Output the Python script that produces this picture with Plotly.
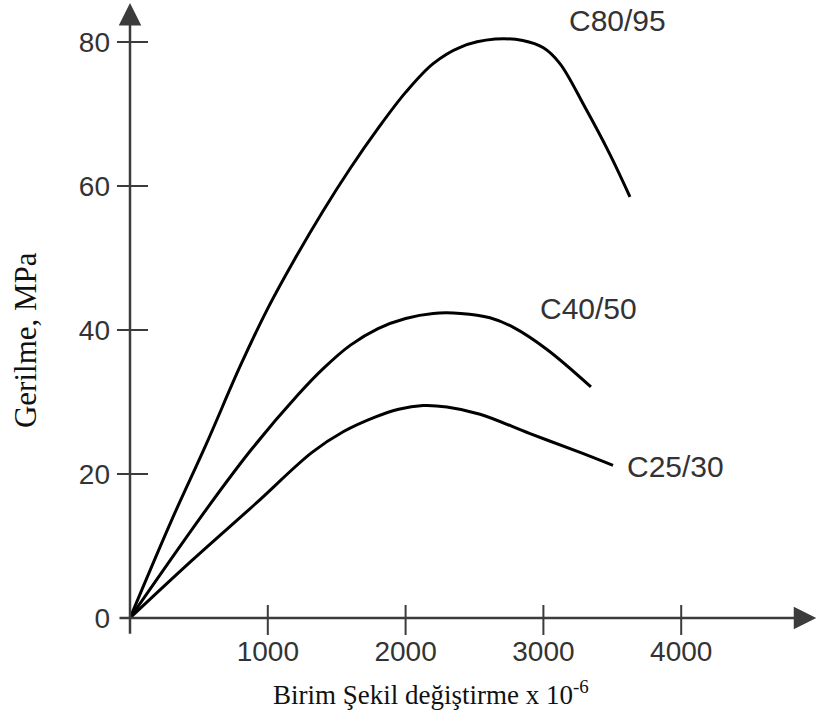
import plotly.graph_objects as go

# Strain (x 10^-6) and stress (MPa) readings for each concrete class
c80_strain = [0, 300, 550, 800, 1000, 1200, 1400, 1600, 1800, 2000, 2200, 2400, 2650, 2850, 3000, 3120, 3300, 3480, 3628]
c80_stress = [0, 13.5, 24.0, 35.0, 43.0, 50.0, 56.5, 62.5, 68.0, 73.0, 77.0, 79.3, 80.4, 80.2, 79.2, 77.0, 71.0, 64.5, 58.5]

c40_strain = [0, 566, 885, 1219, 1400, 1600, 1800, 2000, 2200, 2400, 2612, 2779, 3026, 3345]
c40_stress = [0, 15.4, 23.5, 31.0, 34.6, 37.9, 40.2, 41.6, 42.3, 42.3, 41.7, 40.4, 37.3, 32.1]

c25_strain = [0, 450, 907, 1321, 1550, 1778, 1950, 2126, 2300, 2540, 2903, 3266, 3505]
c25_stress = [0, 8.0, 15.8, 23.0, 25.9, 27.9, 29.0, 29.5, 29.3, 28.3, 25.6, 23.0, 21.2]

series_names = ["C80/95", "C40/50", "C25/30"]
label_pos = [(3541, 83.0), (3324, 43.0), (3962, 21.0)]

x_ticks = [1000, 2000, 3000, 4000]
y_ticks = [0, 20, 40, 60, 80]

X_RANGE = [-101.6, 5000]
Y_RANGE = [-2.5, 85.83]

AXIS_COLOR = "#3c3c3c"
TEXT_COLOR = "#333333"
SANS = "Liberation Sans, Arial"
SERIF = "Liberation Serif, Times New Roman"

fig = go.Figure()

for xs, ys, name in zip([c80_strain, c40_strain, c25_strain],
                        [c80_stress, c40_stress, c25_stress], series_names):
    fig.add_trace(go.Scatter(
        x=xs, y=ys, mode="lines", name=name,
        line=dict(color="black", width=3, shape="spline", smoothing=1.0),
        showlegend=False, hoverinfo="skip",
    ))

shapes = []
# crossing tick marks on both axes
for xv in x_ticks:
    shapes.append(dict(type="line", xref="x", yref="y", ysizemode="pixel", yanchor=0,
                       x0=xv, x1=xv, y0=-17, y1=13,
                       line=dict(color=AXIS_COLOR, width=2)))
for yv in y_ticks[1:]:
    shapes.append(dict(type="line", xref="x", yref="y", xsizemode="pixel", xanchor=0,
                       x0=-13, x1=18, y0=yv, y1=yv,
                       line=dict(color=AXIS_COLOR, width=2)))

annotations = [
    # axes drawn as arrows
    dict(x=0, y=85.4, ax=0, ay=-2.4, xref="x", yref="y", axref="x", ayref="y",
         text="", showarrow=True, arrowhead=2, arrowsize=1.8, arrowwidth=2.5,
         arrowcolor=AXIS_COLOR),
    dict(x=4980, y=0, ax=-87, ay=0, xref="x", yref="y", axref="x", ayref="y",
         text="", showarrow=True, arrowhead=2, arrowsize=1.8, arrowwidth=2.5,
         arrowcolor=AXIS_COLOR),
]

for name, (lx, ly) in zip(series_names, label_pos):
    annotations.append(dict(x=lx, y=ly, xref="x", yref="y", text=name, showarrow=False,
                            xanchor="center", yanchor="middle",
                            font=dict(family=SANS, size=30, color=TEXT_COLOR)))

annotations.append(dict(
    x=0.448, y=-0.0896, xref="paper", yref="paper", xanchor="center", yanchor="middle",
    text="Birim Şekil değiştirme x 10<sup>-6</sup>", showarrow=False,
    font=dict(family=SERIF, size=27, color="#111111"),
))
annotations.append(dict(
    x=-0.1294, y=0.4654, xref="paper", yref="paper", xanchor="center", yanchor="middle",
    textangle=-90, text="Gerilme, MPa", showarrow=False,
    font=dict(family=SERIF, size=31, color="#111111"),
))

fig.update_layout(
    width=819, height=722, autosize=False,
    margin=dict(l=116, r=0, t=0, b=86),
    paper_bgcolor="white", plot_bgcolor="white",
    shapes=shapes, annotations=annotations,
    xaxis=dict(range=X_RANGE, tickvals=x_ticks, ticks="", showgrid=False, zeroline=False,
               showline=False, ticklabelstandoff=-4,
               tickfont=dict(family=SANS, size=28, color=TEXT_COLOR)),
    yaxis=dict(range=Y_RANGE, tickvals=y_ticks, ticks="", showgrid=False, zeroline=False,
               showline=False, ticklabelstandoff=5,
               tickfont=dict(family=SANS, size=28, color=TEXT_COLOR)),
)

fig.write_html("out.html")
